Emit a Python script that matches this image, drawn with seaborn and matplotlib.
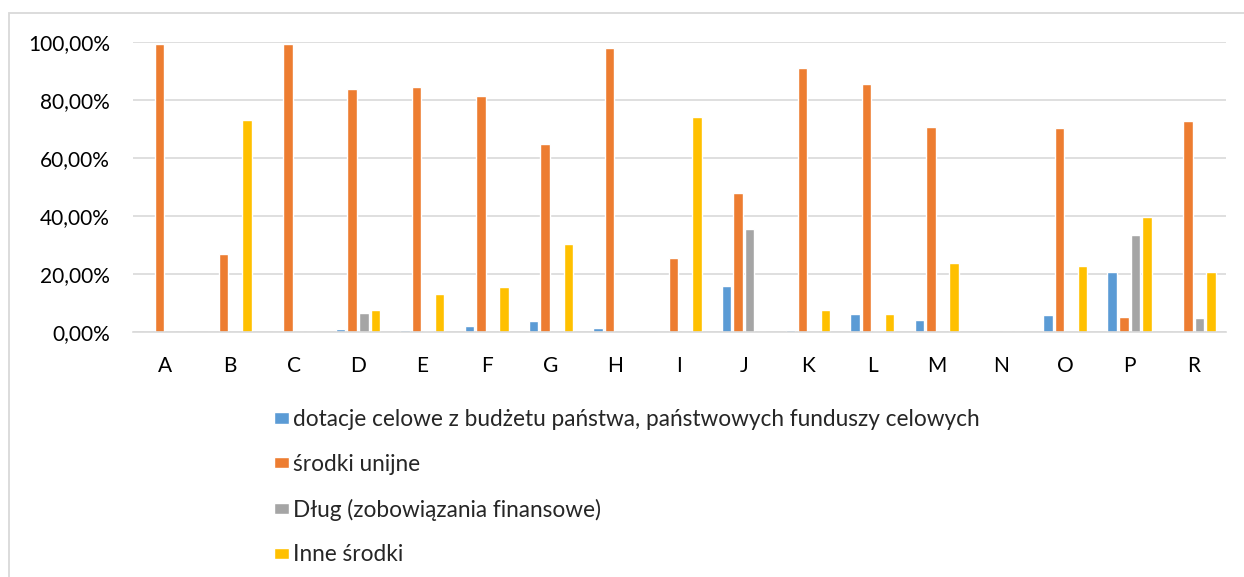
import matplotlib
matplotlib.use("Agg")
import matplotlib.pyplot as plt
import seaborn as sns
import pandas as pd
from matplotlib.patches import Rectangle
from matplotlib.ticker import FuncFormatter

categories = ["A", "B", "C", "D", "E", "F", "G", "H", "I", "J", "K", "L", "M", "N", "O", "P", "R"]
series_names = [
    "dotacje celowe z budżetu państwa, państwowych funduszy celowych",
    "środki unijne",
    "Dług (zobowiązania finansowe)",
    "Inne środki",
]
dotacje = [0.2, 0.0, 0.1, 1.0, 0.9, 2.3, 3.9, 1.5, 0.0, 16.1, 0.8, 6.4, 4.4, 0.0, 6.0, 20.7, 0.2]
unijne = [99.3, 26.9, 99.5, 83.8, 84.5, 81.4, 65.0, 98.0, 25.7, 48.1, 91.0, 85.6, 70.9, 0.0, 70.4, 5.2, 72.9]
dlug = [0.0, 0.0, 0.0, 6.8, 0.35, 0.0, 0.0, 0.0, 0.0, 35.5, 0.0, 0.6, 0.0, 0.0, 0.0, 33.4, 5.1]
inne = [0.0, 73.1, 0.1, 7.6, 13.2, 15.7, 30.6, 0.0, 74.1, 0.0, 7.6, 6.4, 23.9, 0.0, 23.0, 39.7, 20.7]
colors = ["#5B9BD5", "#ED7D31", "#A5A5A5", "#FFC000"]

rows = []
for name, vals in zip(series_names, [dotacje, unijne, dlug, inne]):
    for c, v in zip(categories, vals):
        rows.append({"cat": c, "series": name, "value": v / 100.0})
df = pd.DataFrame(rows)

sns.set_theme(style="white")
plt.rcParams["font.family"] = ["Lato", "DejaVu Sans"]

fig = plt.figure(figsize=(12.44, 5.77), dpi=100)
ax = fig.add_axes([133 / 1244, 1 - 332.3 / 577, (1226 - 133) / 1244, 290 / 577])

sns.barplot(data=df, x="cat", y="value", hue="series", order=categories,
            hue_order=series_names, palette=colors, width=0.72, gap=0.18,
            saturation=1, ax=ax, legend=True)

ax.set_ylim(0, 1.0)
ax.set_xlim(-0.5, len(categories) - 0.5)
ax.set_yticks([0, 0.2, 0.4, 0.6, 0.8, 1.0])
ax.yaxis.set_major_formatter(FuncFormatter(lambda v, p: f"{v*100:.2f}%".replace(".", ",")))
ax.grid(axis="y", color="#d9d9d9", linewidth=1.2)
ax.set_axisbelow(True)
for s in ["top", "right", "left"]:
    ax.spines[s].set_visible(False)
ax.spines["bottom"].set_color("#d9d9d9")
ax.spines["bottom"].set_linewidth(1.2)
ax.tick_params(axis="y", labelsize=15, length=0, pad=16.5, colors="black")
ax.tick_params(axis="x", labelsize=15, length=0, pad=17, colors="black")
ax.set_xlabel("")
ax.set_ylabel("")

handles, labels = ax.get_legend_handles_labels()
ax.get_legend().remove()
fig.legend(handles, labels, loc="upper left", bbox_to_anchor=(274 / 1244, 1 - 409 / 577),
           frameon=False, fontsize=16.3, handlelength=0.65, handleheight=0.4,
           handletextpad=0.2, labelspacing=1.05, borderaxespad=0, borderpad=0)

fig.patches.append(Rectangle((8.5 / 1244, -0.05), 1.2, 1 - 13 / 577 + 0.05,
                             transform=fig.transFigure, fill=False,
                             edgecolor="#d9d9d9", linewidth=1.3))

fig.savefig("out.png", dpi=100, facecolor="white")
